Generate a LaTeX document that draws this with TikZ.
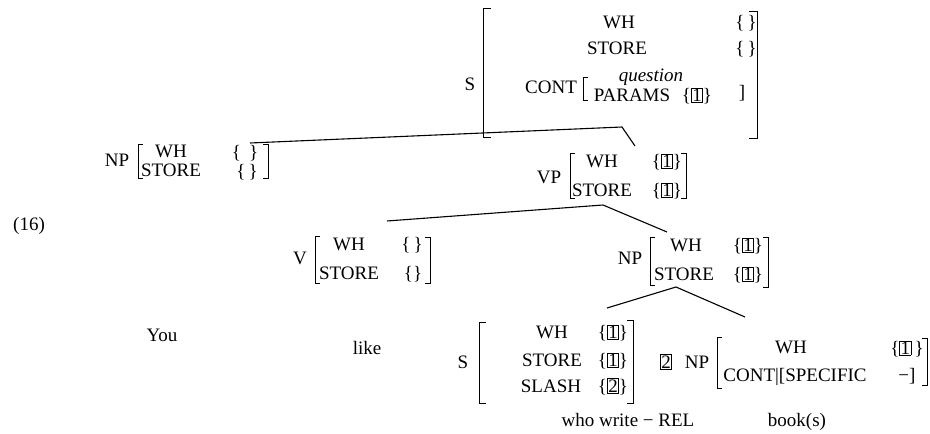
\documentclass[tikz,border=0pt]{standalone}
\usepackage{fontspec}
\setmainfont{Liberation Serif}
\newcommand\bxd[1]{{\fboxsep=0.5pt\fboxrule=0.7pt\fbox{#1}}}
\tikzset{
  tx/.style={inner sep=0pt, text height=12.5pt, text depth=0pt, anchor=center},
  brk/.style={line width=1pt},
  edge/.style={line width=1.1pt},
}
\begin{document}
\begin{tikzpicture}[x=1pt,y=-1pt,font=\fontsize{19}{22}\selectfont]
\useasboundingbox (0,0) rectangle (930,434);
% ---------- top S ----------
\node[tx] (s1) at (470,84) {S};
\draw[brk] (491,8) -- (483,8) -- (483,137) -- (491,137);
\draw[brk] (749,11) -- (757,11) -- (757,138) -- (749,138);
\node[tx] (s1wh) at (619,22) {WH};
\node[tx] (s1whv) at (746,22) {\{\,\}};
\node[tx] (s1st) at (617,48) {STORE};
\node[tx] (s1stv) at (746,48) {\{\,\}};
\node[tx] (s1cont) at (551,87) {CONT};
\draw[line width=0.9pt] (588,77) -- (583,77) -- (583,100) -- (588,100);
\node[anchor=base, inner sep=0pt] (s1q) at (651,81) {\itshape question};
\node[tx] (s1par) at (632,95) {PARAMS};
\node[tx] (s1parv) at (697,95) {\{\bxd{1}\}};
\node[tx] (s1rb) at (742,92) {]};
% ---------- left NP ----------
\node[tx] (np1) at (117,160) {NP};
\draw[brk] (143,144) -- (138,144) -- (138,178) -- (143,178);
\node[tx] (np1wh) at (171,151) {WH};
\node[tx] (np1st) at (171,170) {STORE};
\node[tx] (np1whv) at (245,152) {\{\hspace{8pt}\}};
\node[tx] (np1stv) at (247,171) {\{\,\}};
\draw[brk] (263,144) -- (268,144) -- (268,178) -- (263,178);
% ---------- VP ----------
\node[tx] (vp) at (549,177) {VP};
\draw[brk] (575,153) -- (570,153) -- (570,198) -- (575,198);
\node[tx] (vpwh) at (602,161) {WH};
\node[tx] (vpst) at (602,190) {STORE};
\node[tx] (vpwhv) at (667,161) {\{\bxd{1}\}};
\node[tx] (vpstv) at (667,190) {\{\bxd{1}\}};
\draw[brk] (681,153) -- (686,153) -- (686,198) -- (681,198);
% ---------- V ----------
\node[tx] (v) at (300,258) {V};
\draw[brk] (320,236) -- (315,236) -- (315,283) -- (320,283);
\node[tx] (vwh) at (349,244) {WH};
\node[tx] (vst) at (349,273) {STORE};
\node[tx] (vwhv) at (412,244) {\{\,\}};
\node[tx] (vstv) at (413,273) {\{\}};
\draw[brk] (425,237) -- (430,237) -- (430,283) -- (425,283);
% ---------- middle NP ----------
\node[tx] (np2) at (630,258) {NP};
\draw[brk] (655,237) -- (650,237) -- (650,285) -- (655,285);
\node[tx] (np2wh) at (686,245) {WH};
\node[tx] (np2st) at (684,274) {STORE};
\node[tx] (np2whv) at (748,245) {\{\bxd{1}\}};
\node[tx] (np2stv) at (748,274) {\{\bxd{1}\}};
\draw[brk] (763,237) -- (768,237) -- (768,287) -- (763,287);
% ---------- bottom S ----------
\node[tx] (s2) at (463,362) {S};
\draw[brk] (486,322) -- (479,322) -- (479,403) -- (486,403);
\node[tx] (s2wh) at (552,332) {WH};
\node[tx] (s2st) at (552,360) {STORE};
\node[tx] (s2sl) at (551,386) {SLASH};
\node[tx] (s2whv) at (613,332) {\{\bxd{1}\}};
\node[tx] (s2stv) at (613,360) {\{\bxd{1}\}};
\node[tx] (s2slv) at (613,386) {\{\bxd{2}\}};
\draw[brk] (627,320) -- (633,320) -- (633,403) -- (627,403);
% ---------- bottom NP ----------
\node[tx] (tag2) at (666,362) {\bxd{2}};
\node[tx] (np3) at (697,362) {NP};
\draw[brk] (722,337) -- (717,337) -- (717,388) -- (722,388);
\node[tx] (np3wh) at (791,347) {WH};
\node[tx] (np3ct) at (795,375) {CONT|[SPECIFIC};
\node[tx] (np3whv) at (907,348) {\{\bxd{1}\,\}};
\node[tx] (np3ctv) at (907,375) {−]};
\draw[brk] (922,338) -- (927,338) -- (927,385) -- (922,385);
% ---------- words ----------
\node[tx] (num) at (29,224) {(16)};
\node[tx] (you) at (162,335) {You};
\node[tx] (like) at (367,348) {like};
\node[tx] (who) at (628,420) {who write − REL};
\node[tx] (book) at (797,420) {book(s)};
% ---------- tree lines ----------
\coordinate (a1) at (250,143);
\coordinate (a2) at (622,127);
\coordinate (a3) at (635,146);
\coordinate (b1) at (387,221);
\coordinate (b2) at (603,205);
\coordinate (b3) at (667,232);
\coordinate (c1) at (607,308);
\coordinate (c2) at (676,287);
\coordinate (c3) at (745,317);
\draw[edge] (a1) -- (a2) -- (a3);
\draw[edge] (b1) -- (b2) -- (b3);
\draw[edge] (c1) -- (c2) -- (c3);
\end{tikzpicture}
\end{document}
